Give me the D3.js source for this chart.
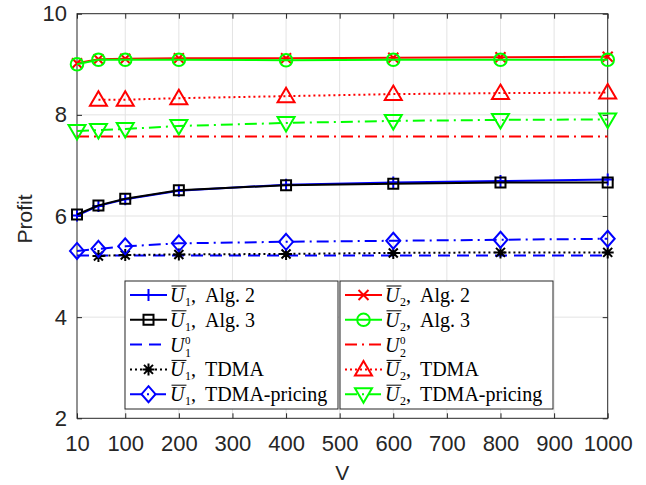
<!DOCTYPE html>
<html>
<head>
<meta charset="utf-8">
<script src="https://cdn.jsdelivr.net/npm/d3@7"></script>
<style>
  body { margin: 0; background: #fff; }
  svg { display: block; }
</style>
</head>
<body>
<svg id="canvas"></svg>
<script>
// data
let vValues = [10, 50, 100, 200, 400, 600, 800, 1000]
let tdmaV = [50, 100, 200, 400, 600, 800, 1000]
let u1Alg2 = [6.01, 6.20, 6.33, 6.50, 6.62, 6.66, 6.69, 6.72]
let u1Alg3 = [6.03, 6.21, 6.34, 6.51, 6.61, 6.64, 6.66, 6.66]
let u1Zero = [5.22, 5.22, 5.22, 5.22, 5.22, 5.22, 5.22, 5.22]
let u1Tdma = [5.21, 5.23, 5.24, 5.25, 5.27, 5.28, 5.28]
let u1Pricing = [5.31, 5.35, 5.40, 5.46, 5.49, 5.51, 5.53, 5.55]
let u2Alg2 = [9.02, 9.10, 9.11, 9.12, 9.12, 9.13, 9.14, 9.15]
let u2Alg3 = [9.00, 9.09, 9.09, 9.09, 9.08, 9.09, 9.09, 9.09]
let u2Zero = [7.57, 7.57, 7.57, 7.57, 7.57, 7.57, 7.57, 7.57]
let u2Tdma = [8.30, 8.30, 8.33, 8.37, 8.41, 8.43, 8.44]
let u2Pricing = [7.68, 7.70, 7.72, 7.78, 7.84, 7.88, 7.90, 7.91]

let xTicks = [10, 100, 200, 300, 400, 500, 600, 700, 800, 900, 1000]
let yTicks = [2, 4, 6, 8, 10]

let series = [
    { xs: vValues, ys: u1Alg2, color: "#0000ff", dash: null, marker: "plus", sub: "1", sup: null, bar: true, rest: "Alg. 2" },
    { xs: vValues, ys: u1Alg3, color: "#000000", dash: null, marker: "square", sub: "1", sup: null, bar: true, rest: "Alg. 3" },
    { xs: vValues, ys: u1Zero, color: "#0000ff", dash: "12,7", marker: null, sub: "1", sup: "0", bar: false, rest: "" },
    { xs: tdmaV, ys: u1Tdma, color: "#000000", dash: "2,3", marker: "asterisk", sub: "1", sup: null, bar: true, rest: "TDMA" },
    { xs: vValues, ys: u1Pricing, color: "#0000ff", dash: "12,5,2,5", marker: "diamond", sub: "1", sup: null, bar: true, rest: "TDMA-pricing" },
    { xs: vValues, ys: u2Alg2, color: "#ff0000", dash: null, marker: "cross", sub: "2", sup: null, bar: true, rest: "Alg. 2" },
    { xs: vValues, ys: u2Alg3, color: "#00ff00", dash: null, marker: "circle", sub: "2", sup: null, bar: true, rest: "Alg. 3" },
    { xs: vValues, ys: u2Zero, color: "#ff0000", dash: "12,5,2,5", marker: null, sub: "2", sup: "0", bar: false, rest: "" },
    { xs: tdmaV, ys: u2Tdma, color: "#ff0000", dash: "2,3", marker: "triUp", sub: "2", sup: null, bar: true, rest: "TDMA" },
    { xs: vValues, ys: u2Pricing, color: "#00ff00", dash: "12,5,2,5", marker: "triDown", sub: "2", sup: null, bar: true, rest: "TDMA-pricing" }
]

let width = 646
let height = 485
let plotLeft = 77, plotRight = 607.7, plotTop = 13.7, plotBottom = 418.3
let textColor = "#262626"
let sans = "'Liberation Sans', Arial, sans-serif"
let serif = "'Liberation Serif', 'Times New Roman', serif"

let canvas = d3.select("#canvas")
    .attr("width", width)
    .attr("height", height)

let x = d3.scaleLinear().domain([10, 1000]).range([plotLeft, plotRight])
let y = d3.scaleLinear().domain([2, 10]).range([plotBottom, plotTop])

// grid
let grid = canvas.append("g")
grid.selectAll(".gx")
    .data(xTicks.slice(1, -1))
    .enter()
    .append("line")
    .attr("x1", (d) => x(d)).attr("x2", (d) => x(d))
    .attr("y1", plotTop).attr("y2", plotBottom)
    .attr("stroke", "#e3e3e3")
grid.selectAll(".gy")
    .data(yTicks.slice(1, -1))
    .enter()
    .append("line")
    .attr("x1", plotLeft).attr("x2", plotRight)
    .attr("y1", (d) => y(d)).attr("y2", (d) => y(d))
    .attr("stroke", "#e3e3e3")

// axes
let styleAxis = (g) => {
    g.select(".domain").remove()
    g.selectAll("line").attr("stroke", textColor)
    g.selectAll("text").attr("fill", textColor)
        .style("font-family", sans).style("font-size", "22px")
}
canvas.append("g").attr("transform", "translate(0," + plotBottom + ")")
    .call(d3.axisBottom(x).tickValues(xTicks).tickFormat(d3.format("d"))
        .tickSizeInner(-5).tickSizeOuter(0).tickPadding(17))
    .call(styleAxis)
canvas.append("g").attr("transform", "translate(0," + plotTop + ")")
    .call(d3.axisTop(x).tickValues(xTicks).tickSizeInner(-5).tickSizeOuter(0).tickFormat(""))
    .call(styleAxis)
canvas.append("g").attr("transform", "translate(" + plotLeft + ",0)")
    .call(d3.axisLeft(y).tickValues(yTicks).tickSizeInner(-5).tickSizeOuter(0).tickPadding(10))
    .call(styleAxis)
canvas.append("g").attr("transform", "translate(" + plotRight + ",0)")
    .call(d3.axisRight(y).tickValues(yTicks).tickSizeInner(-5).tickSizeOuter(0).tickFormat(""))
    .call(styleAxis)

canvas.append("rect")
    .attr("x", plotLeft).attr("y", plotTop)
    .attr("width", plotRight - plotLeft).attr("height", plotBottom - plotTop)
    .attr("fill", "none").attr("stroke", textColor)

// axis labels
canvas.append("text")
    .attr("x", (plotLeft + plotRight) / 2).attr("y", 480)
    .attr("text-anchor", "middle")
    .attr("fill", textColor)
    .style("font-family", sans).style("font-size", "21px")
    .text("V")
canvas.append("text")
    .attr("transform", "translate(32,219) rotate(-90)")
    .attr("text-anchor", "middle")
    .attr("fill", textColor)
    .style("font-family", sans).style("font-size", "21px")
    .text("Profit")

// markers
let markerPath = (type) => {
    if (type === "plus") return "M-6,0H6M0,-6V6"
    if (type === "cross") return "M-5,-5L5,5M-5,5L5,-5"
    if (type === "asterisk") return "M-6,0H6M0,-6V6M-4.5,-4.5L4.5,4.5M-4.5,4.5L4.5,-4.5"
    if (type === "square") return "M-5,-5H5V5H-5Z"
    if (type === "diamond") return "M0,-8L7,0L0,8L-7,0Z"
    if (type === "triUp") return "M0,-8.5L8.5,6H-8.5Z"
    if (type === "triDown") return "M0,8.5L8.5,-6H-8.5Z"
    if (type === "circle") return "M6.3,0A6.3,6.3 0 1,1 -6.3,0A6.3,6.3 0 1,1 6.3,0Z"
    return ""
}

let lineGen = d3.line()
    .x((d) => x(d[0]))
    .y((d) => y(d[1]))

series.forEach((s) => {
    let pts = s.xs.map((v, i) => [v, s.ys[i]])
    let g = canvas.append("g")
    g.append("path")
        .attr("d", lineGen(pts))
        .attr("fill", "none")
        .attr("stroke", s.color)
        .attr("stroke-width", 2)
        .attr("stroke-dasharray", s.dash)
    if (s.marker) {
        g.selectAll(".m")
            .data(pts)
            .enter()
            .append("path")
            .attr("transform", (d) => "translate(" + x(d[0]) + "," + y(d[1]) + ")")
            .attr("d", markerPath(s.marker))
            .attr("fill", "none")
            .attr("stroke", s.color)
            .attr("stroke-width", 2)
    }
})

// legend, two boxes side by side
let legendBoxes = [
    { x0: 125, items: series.slice(0, 5) },
    { x0: 340, items: series.slice(5) }
]
let fs = 20

let drawLabel = (g, tx, baseline, s) => {
    let t = g.append("text")
        .attr("x", tx).attr("y", baseline)
        .style("font-family", serif).style("font-size", fs + "px")
        .attr("fill", "#000")
    let u = t.append("tspan").style("font-style", "italic").text("U")
    let w = u.node().getComputedTextLength()
    if (s.bar) {
        g.append("line")
            .attr("x1", tx + 1.5).attr("x2", tx + w + 2)
            .attr("y1", baseline - 16).attr("y2", baseline - 16)
            .attr("stroke", "#000").attr("stroke-width", 1)
    }
    let subDy = s.sup ? 5.5 : 4
    let sub = t.append("tspan")
        .attr("dx", 0.5).attr("dy", subDy)
        .style("font-size", "12px")
        .text(s.sub)
    let sw = sub.node().getComputedTextLength()
    let back = -subDy
    if (s.sup) {
        t.append("tspan")
            .attr("dx", -sw).attr("dy", -13.5)
            .style("font-size", "11px")
            .text(s.sup)
        back = 8
    }
    if (s.rest) {
        t.append("tspan").attr("dy", back).text(",")
        t.append("tspan").attr("dx", 9).text(s.rest)
    }
}

legendBoxes.forEach((box) => {
    let g = canvas.append("g")
    g.append("rect")
        .attr("x", box.x0).attr("y", 281)
        .attr("width", 213).attr("height", 128)
        .attr("fill", "#fff")
        .attr("stroke", textColor)
    box.items.forEach((s, i) => {
        let cy = 295 + i * 24.8
        g.append("line")
            .attr("x1", box.x0 + 5).attr("x2", box.x0 + 42)
            .attr("y1", cy).attr("y2", cy)
            .attr("stroke", s.color)
            .attr("stroke-width", 2)
            .attr("stroke-dasharray", s.dash)
        if (s.marker) {
            g.append("path")
                .attr("transform", "translate(" + (box.x0 + 23.5) + "," + cy + ")")
                .attr("d", markerPath(s.marker))
                .attr("fill", "none")
                .attr("stroke", s.color)
                .attr("stroke-width", 2)
        }
        drawLabel(g, box.x0 + 45, cy + 7, s)
    })
})
</script>
</body>
</html>
